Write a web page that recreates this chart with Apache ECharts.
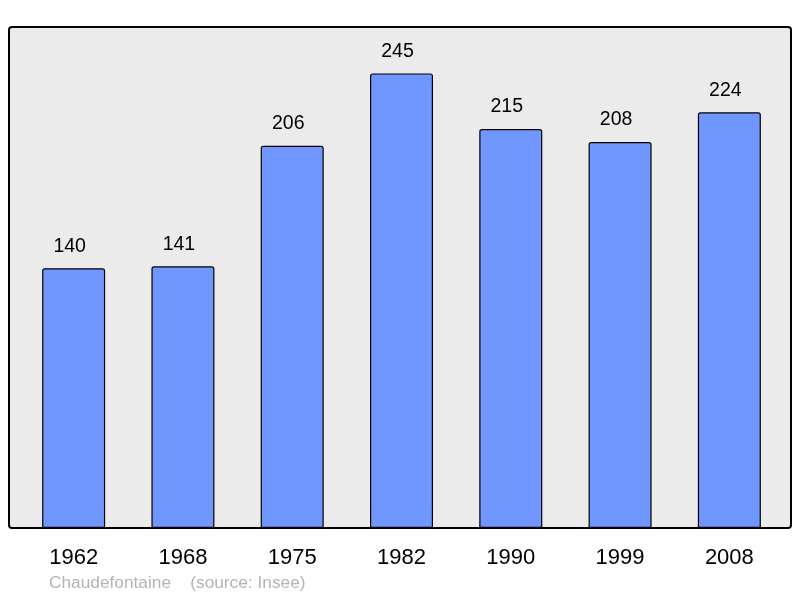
<!DOCTYPE html>
<html>
<head>
<meta charset="utf-8">
<script src="https://cdn.jsdelivr.net/npm/echarts@6/dist/echarts.min.js"></script>
<style>
  html, body { margin: 0; padding: 0; background: #fff; }
  #main { width: 800px; height: 598px; }
</style>
</head>
<body>
<div id="main"></div>
<script>
// population data
const years = ['1962', '1968', '1975', '1982', '1990', '1999', '2008'];
const population = [140, 141, 206, 245, 215, 208, 224];
const sourceText = 'Chaudefontaine    (source: Insee)';

const myChart = echarts.init(document.getElementById('main'));
myChart.setOption({
  animation: false,
  textStyle: { fontFamily: 'Liberation Sans, Arial, sans-serif' },
  grid: { left: 19, right: 16, top: 27, bottom: 70 },
  graphic: [
    {
      type: 'rect',
      z: -10,
      shape: { x: 9, y: 27, width: 782, height: 501, r: 3 },
      style: { fill: '#ebebeb', stroke: '#000', lineWidth: 2 },
    },
    {
      type: 'text',
      left: 49,
      top: 575,
      style: {
        text: sourceText,
        fill: '#b4b4b4',
        fontSize: 17.3,
        fontFamily: 'Liberation Sans, Arial, sans-serif',
      },
    },
  ],
  xAxis: {
    type: 'category',
    data: years,
    axisLine: { show: false },
    axisTick: { show: false },
    axisLabel: { color: '#000', fontSize: 22, margin: 19 },
  },
  yAxis: {
    type: 'value',
    min: 0,
    max: 270,
    show: false,
    splitLine: { show: false },
  },
  series: [
    {
      type: 'bar',
      data: population,
      barWidth: 63,
      itemStyle: {
        color: '#7096ff',
        borderColor: '#000',
        borderWidth: 1.2,
        borderRadius: [2, 2, 0, 0],
      },
      label: {
        show: true,
        position: 'top',
        distance: 12,
        offset: [-4, 0],
        color: '#000',
        fontSize: 19.5,
      },
    },
  ],
});
</script>
</body>
</html>
